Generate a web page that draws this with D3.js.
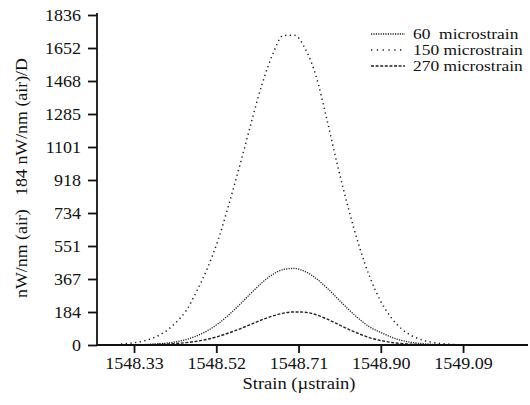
<!DOCTYPE html>
<html><head><meta charset="utf-8">
<script src="https://cdn.jsdelivr.net/npm/d3@7/dist/d3.min.js"></script>
<style>
html,body{margin:0;padding:0;background:#fff;}
text{font-family:"Liberation Serif","Times New Roman",serif;fill:#111;white-space:pre;}
</style></head>
<body>
<svg id="chart" width="530" height="405"></svg>
<script>
const wavelengths = [1548.300,1548.325,1548.350,1548.375,1548.400,1548.425,1548.450,1548.475,1548.500,1548.525,1548.550,1548.575,1548.600,1548.625,1548.650,1548.675,1548.700,1548.725,1548.750,1548.775,1548.800,1548.825,1548.850,1548.875,1548.900,1548.925,1548.950,1548.975,1549.000,1549.025,1549.050,1549.075,1549.100];
const series60  = [0,1,2,5,9,17,30,51,80,120,170,227,288,345,392,420,426,409,371,319,259,199,145,99,70,43,24,13,7,3,2,1,0];
const series150 = [5,11,21,40,71,121,190,300,430,590,790,1005,1230,1445,1615,1722,1724,1650,1500,1260,1000,762,550,376,243,149,86,47,25,12,6,2,1];
const series270 = [0,1,1,3,5,8,13,21,32,48,68,90,115,140,161,177,184,182,169,145,117,88,62,40,25,14,7,4,2,1,0,0,0];
const seriesNames = ["60  microstrain","150 microstrain","270 microstrain"];
const xTicks = [1548.33,1548.52,1548.71,1548.90,1549.09];
const xTickLabels = ["1548.33","1548.52","1548.71","1548.90","1549.09"];
const yTicks = [0,183.6,367.2,550.8,734.4,918,1101.6,1285.2,1468.8,1652.4,1836];
const yTickLabels = ["0","184","367","551","734","918","1101","1285","1468","1652","1836"];
const xTitle = "Strain (\u00b5strain)";
const yTitle = "nW/nm (air)   184 nW/nm (air)/D";

const svg = d3.select("#chart");
const x = d3.scaleLinear().domain([1548.2445, 1549.24]).range([97, 528]);
const y = d3.scaleLinear().domain([0, 1836]).range([345, 15]);

function stretch(sel, f){
  sel.each(function(){
    const w = this.getComputedTextLength();
    d3.select(this).attr("textLength", w*f).attr("lengthAdjust","spacingAndGlyphs");
  });
}

const dashes = ["1.2,1.2", "1.3,3.4", "3,1.6"];
const legendDashes = ["1.2,1.2", "1.3,4.5", "3,1.6"];
const widths = [1.3, 1.5, 1.4];
const data = [series60, series150, series270];

const line = d3.line().x((d,i)=>x(wavelengths[i])).y(d=>y(d)).curve(d3.curveMonotoneX);
data.forEach((s,k)=>{
  svg.append("path").attr("d", line(s)).attr("fill","none")
    .attr("stroke","#222").attr("stroke-width",widths[k])
    .attr("stroke-dasharray",dashes[k]);
});

// axes
const fs = "17px";
const yAxis = svg.append("g").attr("transform","translate(97,0)")
  .call(d3.axisLeft(y).tickValues(yTicks).tickSize(9).tickPadding(7).tickFormat((d,i)=>yTickLabels[i]));
const xAxis = svg.append("g").attr("transform","translate(0,345)")
  .call(d3.axisBottom(x).tickValues(xTicks).tickSize(8).tickPadding(4).tickFormat((d,i)=>xTickLabels[i]));
[yAxis,xAxis].forEach(g=>{
  g.select(".domain").attr("stroke","#111").attr("stroke-width",1.8);
  g.selectAll(".tick line").attr("stroke","#111").attr("stroke-width",1.8);
  g.selectAll(".tick text").attr("font-size",fs).attr("fill","#111");
  stretch(g.selectAll(".tick text"), 1.06);
});
yAxis.select(".domain").attr("d","M0,13V345");
xAxis.select(".domain").attr("d","M97,0H528");

const xt = svg.append("text").attr("x",299).attr("y",389).attr("text-anchor","middle")
  .attr("font-size",fs).text(xTitle);
stretch(xt, 1.09);
const yt = svg.append("text").attr("transform","translate(27,178) rotate(-90)").attr("text-anchor","middle")
  .attr("font-size",fs).text(yTitle);
stretch(yt, 1.05);

// legend
const legendY = [34, 50, 66];
seriesNames.forEach((n,k)=>{
  svg.append("line").attr("x1",371).attr("x2",405).attr("y1",legendY[k]).attr("y2",legendY[k])
    .attr("stroke","#222").attr("stroke-width",1.4).attr("stroke-dasharray",legendDashes[k]);
  const t = svg.append("text").attr("x",413).attr("y",legendY[k]+5).attr("font-size","14.5px").text(n);
  stretch(t, 1.2);
});
</script>
</body></html>
